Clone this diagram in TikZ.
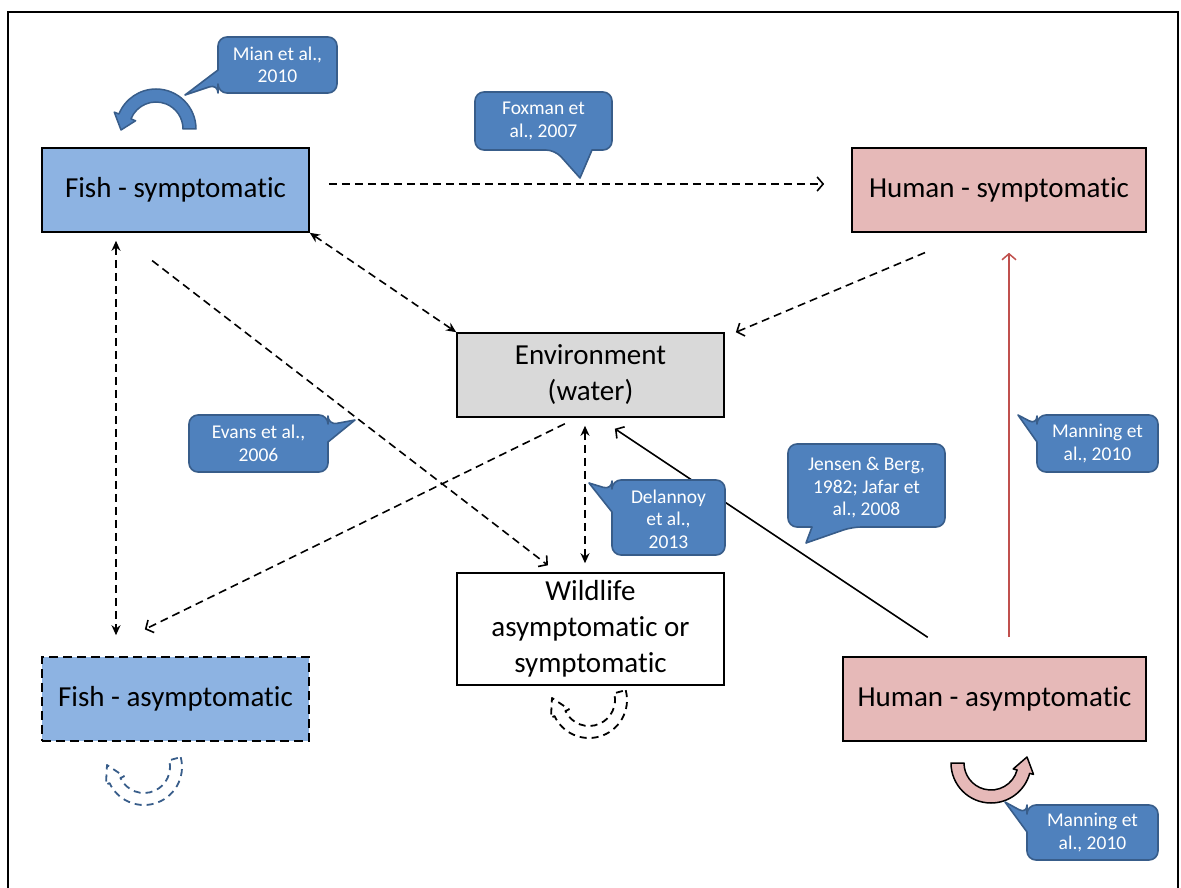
\documentclass[tikz,border=0pt]{standalone}
\usepackage{fontspec}
\setmainfont{Carlito}[Ligatures={NoCommon}]
\usetikzlibrary{arrows.meta,calc}
\definecolor{fishblue}{HTML}{8DB3E2}
\definecolor{humpink}{HTML}{E6B9B8}
\definecolor{envgray}{HTML}{D9D9D9}
\definecolor{cfill}{HTML}{4F81BD}
\definecolor{cborder}{HTML}{385D8A}
\definecolor{redline}{HTML}{C0504D}
\begin{document}
\begin{tikzpicture}[x=1pt,y=-1pt,
  box/.style={draw=black,line width=1.6pt,minimum height=84pt,align=center,
    font=\fontsize{29}{36}\selectfont,inner sep=2pt},
  dsh/.style={line width=1.6pt,dash pattern=on 8pt off 5pt},
  openhead/.style={-{Straight Barb[length=6pt,width=14pt]}},
  bothhead/.style={{Stealth[length=10pt,width=9pt]}-{Stealth[length=10pt,width=9pt]}},
  callout/.style={fill=cfill,draw=cborder,line width=1.6pt,line join=round},
  ctext/.style={text=white,align=center,inner sep=0pt,font=\fontsize{19.5}{22.5}\selectfont},
  blockarc/.style={line width=1.5pt,line join=round},
  dasharc/.style={line width=1.8pt,dash pattern=on 7pt off 5pt,line join=round}
]
\useasboundingbox (0,0) rectangle (1181,888);
\draw[line width=1.5pt] (8,900) -- (8,12) -- (1178,12) -- (1178,900);

% boxes
\node[box,fill=fishblue,minimum width=267pt] (fishS) at (175.5,190) {Fish - symptomatic};
\node[box,fill=humpink,minimum width=294pt] (humS) at (999,190) {Human - symptomatic};
\node[box,fill=envgray,minimum width=267pt] (env) at (590.5,375) {Environment\\(water)};
\node[box,fill=white,minimum width=267pt,minimum height=112pt] (wild) at (590.5,629) {Wildlife\\asymptomatic or\\symptomatic};
\node[box,fill=fishblue,minimum width=267pt,dash pattern=on 9pt off 5pt] (fishA) at (175.5,699) {Fish - asymptomatic};
\node[box,fill=humpink,minimum width=303pt] (humA) at (994.5,699) {Human - asymptomatic};

% connectors
\draw[dsh,openhead,shorten <=19pt,shorten >=27pt] ([yshift=6pt]fishS.east) -- ([yshift=6pt]humS.west);
\draw[dsh,bothhead] (fishS.south east) -- (env.north west);
\draw[dsh,bothhead,shorten <=8pt,shorten >=21pt] ([xshift=-59.5pt]fishS.south) -- ([xshift=-59.5pt]fishA.north);
\draw[dsh,openhead,shorten <=45.6pt,shorten >=11.4pt] ([xshift=-59.5pt]fishS.south) -- ([xshift=-33.5pt]wild.north);
\draw[dsh,openhead,shorten <=51pt,shorten >=12pt] ([xshift=-27pt]humS.south) -- ([yshift=-4.7pt]env.north east);
\draw[dsh,openhead,shorten <=13.6pt,shorten >=61pt] ([xshift=-13.5pt]env.south) -- ([xshift=-85.5pt]fishA.north);
\draw[dsh,bothhead,shorten <=8pt,shorten >=9pt] ([xshift=-5.5pt]env.south) -- ([xshift=-5.5pt]wild.north);
\draw[line width=1.6pt,openhead,shorten <=34pt,shorten >=19.7pt] ([xshift=-38.5pt]humA.north) -- ([xshift=8pt]env.south);
\draw[line width=1.5pt,draw=redline,openhead,shorten <=19pt,shorten >=20pt] ([xshift=14.5pt]humA.north) -- ([xshift=10pt]humS.south);

% blue block arc above fish symptomatic
\filldraw[blockarc,fill=cfill,draw=cborder] (196,129) arc[start angle=0,end angle=-158,radius=40]
  -- ([shift={(156,129)}]-158:45) -- (121,130) -- ([shift={(156,129)}]-158:22)
  -- ([shift={(156,129)}]-158:27) arc[start angle=-158,end angle=0,radius=27] -- cycle;

% pink block arc below human asymptomatic
\filldraw[blockarc,fill=humpink,draw=black] (951,763) arc[start angle=180,end angle=15,radius=40]
  -- ([shift={(991,763)}]15:44) -- (1027,757) -- ([shift={(991,763)}]15:23)
  -- ([shift={(991,763)}]15:27) arc[start angle=15,end angle=180,radius=27] -- cycle;

% dashed arcs
\draw[dasharc,draw=black] ([shift={(589,700)}]-15:38) arc[start angle=-15,end angle=155,radius=38]
  -- ([shift={(589,700)}]155:42) -- (552,698) -- ([shift={(589,700)}]155:22)
  -- ([shift={(589,700)}]155:26) arc[start angle=155,end angle=-15,radius=26] -- cycle;
\draw[dasharc,draw=cborder] ([shift={(144,767)}]-15:38) arc[start angle=-15,end angle=155,radius=38]
  -- ([shift={(144,767)}]155:42) -- (107,765) -- ([shift={(144,767)}]155:22)
  -- ([shift={(144,767)}]155:26) arc[start angle=155,end angle=-15,radius=26] -- cycle;

% callouts
\path[callout] (218,70) [rounded corners=9pt] -- (218,37) -- (337,37) -- (337,93) -- (218,93) -- (218,84) [sharp corners] -- (185,95) -- cycle;
\node[ctext] (mian) at (277.5,65) {Mian et al.,\\2010};

\path[callout] (592,150) [rounded corners=9pt] -- (612,150) -- (612,92) -- (475,92) -- (475,150) -- (555,150) [sharp corners] -- (580,178) -- cycle;
\node[ctext] (foxman) at (543.5,121) {Foxman et\\al., 2007};

\path[callout] (328,442) [rounded corners=9pt] -- (328,472) -- (189,472) -- (189,415) -- (328,415) -- (328,425) [sharp corners] -- (355,420) -- cycle;
\node[ctext] (evans) at (258.5,443.5) {Evans et al.,\\2006};

\path[callout] (612,512) [rounded corners=9pt] -- (612,555) -- (725,555) -- (725,480) -- (612,480) -- (612,490) [sharp corners] -- (589,483) -- cycle;
\node[ctext] (delannoy) at (668.5,519) {Delannoy\\et al.,\\2013};

\path[callout] (812,527) [rounded corners=9pt] -- (788,527) -- (788,444) -- (945,444) -- (945,527) -- (852,527) [sharp corners] -- (806,543) -- cycle;
\node[ctext] (jensen) at (866.5,488) {Jensen \& Berg,\\1982; Jafar et\\al., 2008};

\path[callout] (1037,442) [rounded corners=9pt] -- (1037,472) -- (1158,472) -- (1158,415) -- (1037,415) -- (1037,425) [sharp corners] -- (1018,415) -- cycle;
\node[ctext] (manning1) at (1097.5,443.5) {Manning et\\al., 2010};

\path[callout] (1027,832) [rounded corners=9pt] -- (1027,860) -- (1158,860) -- (1158,805) -- (1027,805) -- (1027,814) [sharp corners] -- (1005,802) -- cycle;
\node[ctext] (manning2) at (1092.5,832.5) {Manning et\\al., 2010};
\end{tikzpicture}
\end{document}
